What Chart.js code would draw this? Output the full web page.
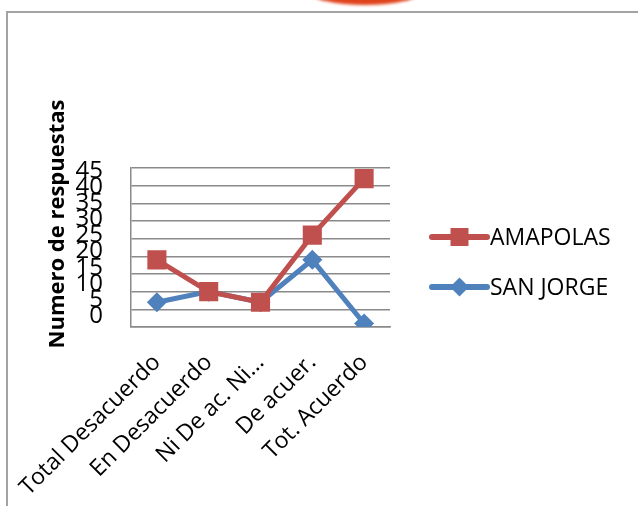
<!DOCTYPE html>
<html>
<head>
<meta charset="utf-8">
<script src="https://cdn.jsdelivr.net/npm/chart.js@4/dist/chart.umd.min.js"></script>
<style>
  html, body { margin: 0; padding: 0; background: #fff; overflow: hidden; }
  .frame {
    position: absolute; left: 6px; top: 11px; width: 700px; height: 600px;
    border-top: 2px solid #a3a3a3; border-left: 2px solid #a3a3a3;
  }
  .blob {
    position: absolute; left: 309px; top: -22px; width: 112px; height: 27px;
    border-radius: 50%; background: #e0431c; filter: blur(1.5px);
  }
  .chart-box { position: absolute; left: 0; top: 0; width: 638px; height: 506px; }
</style>
</head>
<body>
<div class="blob"></div>
<div class="frame"></div>
<div class="chart-box"><canvas id="chart"></canvas></div>
<script>
const categories = ["Total Desacuerdo", "En Desacuerdo", "Ni De ac. Ni...", "De acuer.", "Tot. Acuerdo"];
const amapolas = [19, 10, 7, 26, 42];
const sanJorge = [7, 10, 7, 19, 1];
const yTicks = [0, 5, 10, 15, 20, 25, 30, 35, 40, 45];
const yTitle = "Numero de respuestas";

const FONT = "'Open Sans', 'Liberation Sans', sans-serif";

// axis title + legend with line and marker, like the original
const extras = {
  id: "extras",
  afterDraw(chart) {
    const ctx = chart.ctx;
    const area = chart.chartArea;

    ctx.save();
    ctx.fillStyle = "#000";
    ctx.font = "bold 22px " + FONT;
    ctx.textAlign = "center";
    ctx.textBaseline = "alphabetic";
    ctx.translate(64, 224);
    ctx.rotate(-Math.PI / 2);
    ctx.fillText(yTitle, 0, 0);
    ctx.restore();

    chart.data.datasets.forEach((ds, i) => {
      const y = 237 + i * 50;
      const x0 = area.right + 42;
      const x1 = x0 + 55;
      ctx.save();
      ctx.strokeStyle = ds.borderColor;
      ctx.lineWidth = 6;
      ctx.lineCap = "round";
      ctx.beginPath();
      ctx.moveTo(x0, y);
      ctx.lineTo(x1, y);
      ctx.stroke();
      ctx.fillStyle = ds.pointBackgroundColor;
      Chart.helpers.drawPoint(ctx, {
        pointStyle: ds.pointStyle,
        radius: ds.pointStyle === "rect" ? 12.7 : 9.5,
        rotation: 0,
        borderWidth: 0
      }, (x0 + x1) / 2, y);
      ctx.fillStyle = "#000";
      ctx.font = "23px " + FONT;
      ctx.textAlign = "left";
      ctx.textBaseline = "middle";
      ctx.fillText(ds.label, x1 + 3, y + 1);
      ctx.restore();
    });
  }
};

new Chart(document.getElementById("chart"), {
  type: "line",
  data: {
    labels: categories,
    datasets: [
      {
        label: "AMAPOLAS",
        data: amapolas,
        borderColor: "#C0504D",
        backgroundColor: "#C0504D",
        pointBackgroundColor: "#C0504D",
        pointStyle: "rect",
        pointRadius: 13.5,
        pointBorderWidth: 0,
        borderWidth: 5,
        tension: 0
      },
      {
        label: "SAN JORGE",
        data: sanJorge,
        borderColor: "#4F81BD",
        backgroundColor: "#4F81BD",
        pointBackgroundColor: "#4F81BD",
        pointStyle: "rectRot",
        pointRadius: 10,
        pointBorderWidth: 0,
        borderWidth: 5,
        tension: 0
      }
    ]
  },
  options: {
    responsive: true,
    maintainAspectRatio: false,
    animation: false,
    layout: { padding: { left: 0, top: 168, right: 248, bottom: 0 } },
    plugins: {
      legend: { display: false },
      tooltip: { enabled: false }
    },
    scales: {
      x: {
        offset: true,
        grid: { display: false },
        border: { display: true, color: "#8a8a8a", width: 1.5 },
        ticks: {
          color: "#000",
          font: { family: FONT, size: 23 },
          minRotation: 45,
          maxRotation: 45,
          autoSkip: false,
          padding: 14
        },
        afterFit(scale) {
          scale.height = 179;
          scale.paddingLeft = 0; // long rotated labels may run into the left margin
        }
      },
      // value axis: gridlines and axis line
      y: {
        min: 0,
        max: 45,
        weight: 0,
        afterBuildTicks(scale) { scale.ticks = yTicks.map(v => ({ value: v })); },
        grid: { color: "#8a8a8a", lineWidth: 1.5, drawTicks: false },
        border: { display: true, color: "#8a8a8a", width: 1.5 },
        ticks: { display: false },
        afterFit(scale) { scale.width = 0; }
      },
      // tick labels, packed a little tighter than the gridlines as in the original
      yLabels: {
        type: "linear",
        position: "left",
        weight: 1,
        min: -3.4,
        max: 45.9,
        afterBuildTicks(scale) { scale.ticks = yTicks.map(v => ({ value: v })); },
        grid: { display: false, drawTicks: false },
        border: { display: false },
        ticks: {
          color: "#000",
          font: { family: FONT, size: 24 },
          autoSkip: false,
          padding: 28
        },
        afterFit(scale) { scale.width = 131; }
      }
    }
  },
  plugins: [extras]
});
</script>
</body>
</html>
